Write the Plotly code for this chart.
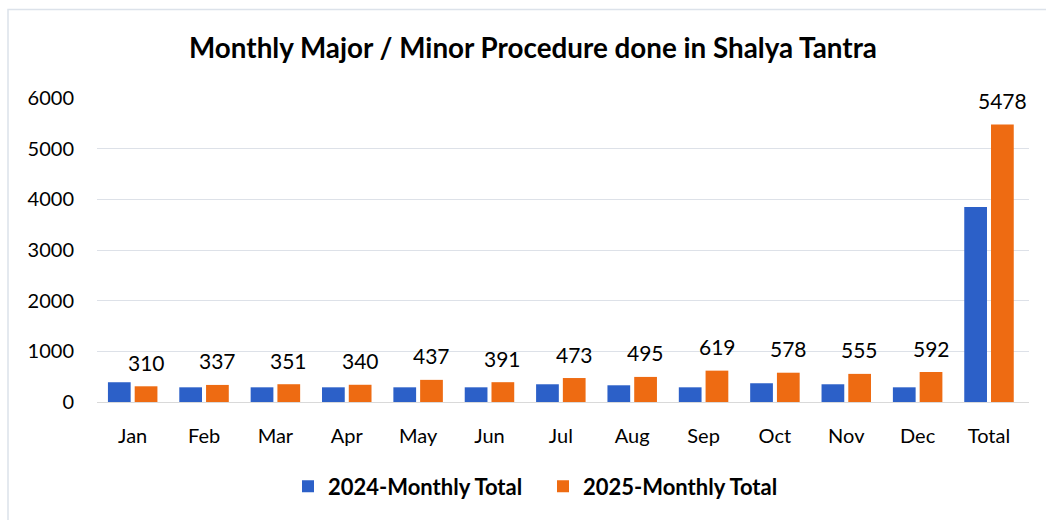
import plotly.graph_objects as go

categories = ["Jan", "Feb", "Mar", "Apr", "May", "Jun", "Jul", "Aug", "Sep", "Oct", "Nov", "Dec", "Total"]
values_2024 = [390, 290, 290, 290, 290, 290, 350, 330, 290, 370, 350, 290, 3850]
values_2025 = [310, 337, 351, 340, 437, 391, 473, 495, 619, 578, 555, 592, 5478]
series_names = ["2024-Monthly Total", "2025-Monthly Total"]
y_ticks = [0, 1000, 2000, 3000, 4000, 5000, 6000]
title_text = "Monthly Major / Minor Procedure done in Shalya Tantra"

FONT = "Lato"
W, H = 1046, 520
L, R, T, B = 97, 17, 98, 116

fig = go.Figure()
fig.add_trace(go.Bar(x=categories, y=values_2024, name=series_names[0],
                     marker=dict(color="#2C60C8", line=dict(width=0))))
fig.add_trace(go.Bar(x=categories, y=values_2025, name=series_names[1],
                     marker=dict(color="#EE6B12", line=dict(width=0))))

for c, v in zip(categories, values_2025):
    fig.add_annotation(x=c, y=v, xref="x", yref="y", text=str(v), showarrow=False,
                       xshift=13.5, yshift=24, yanchor="middle",
                       font=dict(family=FONT, size=21, color="#000000"))

plot_w = W - L - R
plot_h = H - T - B
# outer chart border (light)
fig.add_shape(type="rect", xref="paper", yref="paper",
              x0=(8 - L) / plot_w, x1=(W + 20 - L) / plot_w,
              y0=-(H + 20 - T - plot_h) / plot_h, y1=(H - 9 - B) / plot_h,
              line=dict(color="#DCE2EA", width=1.5), fillcolor="rgba(0,0,0,0)", layer="below")

fig.update_layout(
    width=W, height=H,
    margin=dict(l=L, r=R, t=T, b=B),
    paper_bgcolor="white", plot_bgcolor="white",
    barmode="group", bargap=0.25, bargroupgap=0.15,
    title=dict(text="<b>" + title_text + "</b>", x=533 / W, xanchor="center",
               y=1 - 48 / H, yanchor="middle", xref="container",
               font=dict(family=FONT, size=27.8, color="#000000")),
    font=dict(family=FONT, color="#000000"),
    showlegend=True,
    legend=dict(orientation="h", x=(543 - L) / plot_w, xanchor="center",
                y=(404 - 489) / plot_h, yanchor="middle",
                font=dict(family=FONT, size=22, color="#000000", weight="bold"),
                itemwidth=30, entrywidth=210, tracegroupgap=0),
    xaxis=dict(showgrid=False, showline=True, linecolor="#D9D9D9", linewidth=1,
               tickfont=dict(family=FONT, size=20, color="#000000"),
               ticks="", ticklabelstandoff=16),
    yaxis=dict(range=[0, 6000], tickvals=y_ticks, showgrid=True, gridcolor="#DDE1E8",
               gridwidth=1.3, zeroline=False, showline=False,
               tickfont=dict(family=FONT, size=20, color="#000000"),
               ticks="", ticklabelstandoff=22),
)

fig.write_html("out.html", config={"displayModeBar": False},
               post_script="document.body.style.margin='0';")
